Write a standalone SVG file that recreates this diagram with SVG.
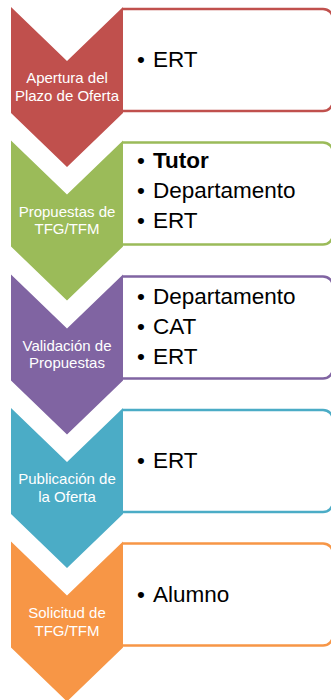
<svg xmlns="http://www.w3.org/2000/svg" width="331" height="700" viewBox="0 0 331 700">
<defs>
<style>
.box{fill:#fff;stroke-width:2.5}
.lbl{font-family:"Liberation Sans",Arial,sans-serif;font-size:15px;fill:#fff;text-anchor:middle}
.itm{font-family:"Liberation Sans",Arial,sans-serif;font-size:22.5px;fill:#000}
.bul{font-family:"Liberation Sans",Arial,sans-serif;font-size:22.5px;fill:#000}
.b{font-weight:bold}
</style>
<path id="chev" d="M0 0 L56 54 L112 0 L112 106 L56 160 L0 106 Z"/>
<path id="boxp" d="M112 2 H312 A10 10 0 0 1 322 12 V94 A10 10 0 0 1 312 104 H112"/>
</defs>
<rect width="331" height="700" fill="#fff"/>
<g id="connectors"></g>
<g id="step1" transform="translate(11,7)">
<use href="#boxp" class="box" stroke="#C0504D"/>
<use href="#chev" fill="#C0504D"/>
<text class="lbl" x="56" y="76">Apertura del</text>
<text class="lbl" x="56" y="93.5">Plazo de Oferta</text>
<text class="bul" x="126" y="60">•</text><text class="itm" x="142" y="60">ERT</text>
</g>
<g id="step2" transform="translate(11,140.5)">
<use href="#boxp" class="box" stroke="#9BBB59"/>
<use href="#chev" fill="#9BBB59"/>
<text class="lbl" x="56" y="76">Propuestas de</text>
<text class="lbl" x="56" y="93.5">TFG/TFM</text>
<text class="bul" x="126" y="27">•</text><text class="itm b" x="142" y="27">Tutor</text>
<text class="bul" x="126" y="57">•</text><text class="itm" x="142" y="57">Departamento</text>
<text class="bul" x="126" y="87">•</text><text class="itm" x="142" y="87">ERT</text>
</g>
<g id="step3" transform="translate(11,274.5)">
<use href="#boxp" class="box" stroke="#8064A2"/>
<use href="#chev" fill="#8064A2"/>
<text class="lbl" x="56" y="76">Validación de</text>
<text class="lbl" x="56" y="93.5">Propuestas</text>
<text class="bul" x="126" y="29">•</text><text class="itm" x="142" y="29">Departamento</text>
<text class="bul" x="126" y="59">•</text><text class="itm" x="142" y="59">CAT</text>
<text class="bul" x="126" y="89">•</text><text class="itm" x="142" y="89">ERT</text>
</g>
<g id="step4" transform="translate(11,408)">
<use href="#boxp" class="box" stroke="#4BACC6"/>
<use href="#chev" fill="#4BACC6"/>
<text class="lbl" x="56" y="76">Publicación de</text>
<text class="lbl" x="56" y="93.5">la Oferta</text>
<text class="bul" x="126" y="60">•</text><text class="itm" x="142" y="60">ERT</text>
</g>
<g id="step5" transform="translate(11,541.5)">
<use href="#boxp" class="box" stroke="#F79646"/>
<use href="#chev" fill="#F79646"/>
<text class="lbl" x="56" y="76">Solicitud de</text>
<text class="lbl" x="56" y="94.5">TFG/TFM</text>
<text class="bul" x="126" y="60.5">•</text><text class="itm" x="142" y="60.5">Alumno</text>
</g>
</svg>
